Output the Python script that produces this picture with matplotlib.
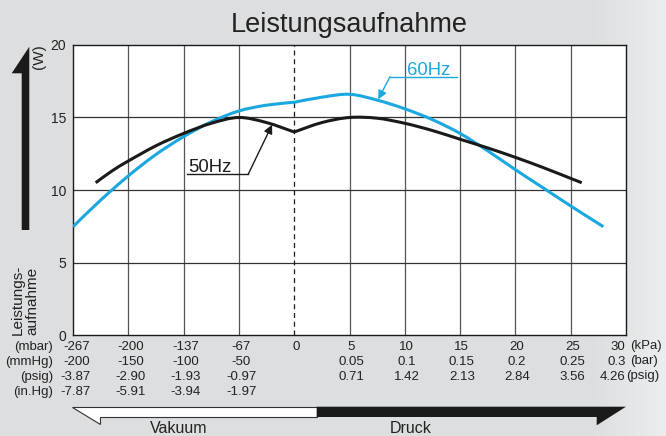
"""
Leistungsaufnahme chart: power draw of a diaphragm pump at 50 Hz / 60 Hz
over vacuum and pressure range.
"""

import matplotlib

matplotlib.use("Agg")

import matplotlib.pyplot as plt
import numpy as np
from matplotlib.patches import PathPatch, Polygon
from matplotlib.path import Path
from matplotlib.transforms import blended_transform_factory

plt.rcParams["font.family"] = ["Liberation Sans", "DejaVu Sans"]

# x is measured in grid columns: 0 = atmosphere, -4..-1 vacuum steps, 1..6 = 5..30 kPa
hz60_x = [-4, -3.5, -3, -2.5, -2, -1.5, -1, -0.5, 0, 0.5, 1, 1.5, 2, 2.5, 3, 3.5, 4, 4.5, 5, 5.59]
hz60_w = [7.47, 9.3, 10.97, 12.45, 13.68, 14.7, 15.45, 15.85, 16.05, 16.4, 16.6, 16.2,
          15.6, 14.85, 13.9, 12.7, 11.4, 10.15, 8.9, 7.47]

hz50_x = [-3.59, -3.3, -3, -2.5, -2, -1.5, -1, -0.5, 0, 0.5, 1, 1.5, 2, 2.5, 3, 3.5, 4, 4.5, 5, 5.2]
hz50_w = [10.5, 11.3, 12.0, 13.05, 13.9, 14.6, 15.0, 14.65, 14.0, 14.65, 15.0, 14.95,
          14.6, 14.1, 13.5, 12.9, 12.25, 11.55, 10.8, 10.5]

vac_cols = [-4, -3, -2, -1]
mbar_labels = ["-267", "-200", "-137", "-67"]
mmhg_labels = ["-200", "-150", "-100", "-50"]
psig_vac_labels = ["-3.87", "-2.90", "-1.93", "-0.97"]
inhg_labels = ["-7.87", "-5.91", "-3.94", "-1.97"]

kpa_cols = [0, 1, 2, 3, 4, 5, 6]
kpa_labels = ["0", "5", "10", "15", "20", "25", "30"]
prs_cols = [1, 2, 3, 4, 5, 6]
bar_labels = ["0.05", "0.1", "0.15", "0.2", "0.25", "0.3"]
psig_labels = ["0.71", "1.42", "2.13", "2.84", "3.56", "4.26"]

y_ticks = [0, 5, 10, 15, 20]
grid_cols = [-3, -2, -1, 1, 2, 3, 4, 5]

BLUE = "#1ba8e0"
BLACK = "#1a1a1a"
TEXT = "#222222"


def smooth_path(xs, ys, kink=0.0):
    """Bezier path through the read points, with a corner at the atmosphere line."""
    pts = np.column_stack([xs, ys]).astype(float)
    split = int(np.where(np.isclose(pts[:, 0], kink))[0][0])
    verts, codes = [], []
    for part in (pts[: split + 1], pts[split:]):
        n = len(part)
        if not verts:
            verts.append(part[0])
            codes.append(Path.MOVETO)
        for i in range(n - 1):
            p0 = part[max(i - 1, 0)]
            p1, p2 = part[i], part[i + 1]
            p3 = part[min(i + 2, n - 1)]
            verts += [p1 + (p2 - p0) / 6, p2 - (p3 - p1) / 6, p2]
            codes += [Path.CURVE4] * 3
    return Path(verts, codes)


W, H = 666, 436
fig = plt.figure(figsize=(W / 100, H / 100), dpi=100)

# pixel-space overlay for the background and everything outside the plot
ov = fig.add_axes([0, 0, 1, 1])
ov.set_xlim(0, W)
ov.set_ylim(H, 0)
ov.axis("off")
ov.set_zorder(1)
shade = np.full(W, 221.0)
ramp = np.arange(W) > 590
shade[ramp] = 221.0 + (np.arange(W)[ramp] - 590) / (W - 590) * 15.0
bg = np.stack([shade, shade + 1, shade + 2], axis=-1)[None, :, :] / 255.0
ov.imshow(np.clip(bg, 0, 1), extent=[0, W, H, 0], aspect="auto", zorder=0)

ax = fig.add_axes([73 / W, 1 - 335 / H, 553 / W, 290 / H])
ax.set_zorder(2)
ax.set_facecolor("white")
ax.set_xlim(-4, 6)
ax.set_ylim(0, 20)

for c in grid_cols:
    ax.axvline(c, color="#555555", lw=0.9, zorder=1)
for v in y_ticks[1:-1]:
    ax.axhline(v, color="#333333", lw=0.9, zorder=1)
ax.axvline(0, color=BLACK, lw=0.9, ls=(0, (4, 3)), zorder=1)

ax.add_patch(PathPatch(smooth_path(hz60_x, hz60_w), fill=False, edgecolor=BLUE,
                       lw=2.2, capstyle="butt", zorder=3))
ax.add_patch(PathPatch(smooth_path(hz50_x, hz50_w), fill=False, edgecolor=BLACK,
                       lw=2.2, capstyle="butt", zorder=4))

ax.set_xticks([])
ax.set_yticks(y_ticks)
ax.tick_params(axis="y", length=0, pad=5, labelsize=10, labelcolor=TEXT)
for s in ax.spines.values():
    s.set_color(BLACK)
    s.set_linewidth(1.0)

# curve call-outs
ax.plot([1.73, 2.94], [17.8, 17.8], color=BLUE, lw=1.0, zorder=5)
ax.annotate("", xy=(1.52, 16.25), xytext=(1.73, 17.8),
            arrowprops=dict(arrowstyle="-|>", color=BLUE, lw=1.0, mutation_scale=13,
                            shrinkA=0, shrinkB=0), zorder=5)
ax.text(2.04, 17.95, "60Hz", color=BLUE, fontsize=13.3, va="baseline")

ax.plot([-1.93, -0.83], [11.1, 11.1], color=BLACK, lw=1.0, zorder=5)
ax.annotate("", xy=(-0.4, 14.5), xytext=(-0.83, 11.1),
            arrowprops=dict(arrowstyle="-|>", color=BLACK, lw=1.0, mutation_scale=13,
                            shrinkA=0, shrinkB=0), zorder=5)
ax.text(-1.92, 11.27, "50Hz", color=BLACK, fontsize=13.3, va="baseline")

# unit rows under the x axis
tr = blended_transform_factory(ax.transData, ov.transData)
fs = 9.5
row_y = [346.5, 362, 377, 392]
vac_rows = [mbar_labels, mmhg_labels, psig_vac_labels, inhg_labels]
for y, labels in zip(row_y, vac_rows):
    for c, lab in zip(vac_cols, labels):
        if c == -4:
            ov.text(c + 0.31, y, lab, transform=tr, ha="right", va="center", fontsize=fs, color=TEXT)
        else:
            ov.text(c + 0.04, y, lab, transform=tr, ha="center", va="center", fontsize=fs, color=TEXT)

prs_rows = [(kpa_cols, kpa_labels), (prs_cols, bar_labels), (prs_cols, psig_labels)]
for y, (cols, labels) in zip(row_y, prs_rows):
    for c, lab in zip(cols, labels):
        if c == 6:
            ov.text(c - 0.01, y, lab, transform=tr, ha="right", va="center", fontsize=fs, color=TEXT)
        else:
            ov.text(c + 0.03, y, lab, transform=tr, ha="center", va="center", fontsize=fs, color=TEXT)

for y, unit in zip(row_y, ["(mbar)", "(mmHg)", "(psig)", "(in.Hg)"]):
    ov.text(53, y, unit, ha="right", va="center", fontsize=fs, color=TEXT)
for y, unit, x0 in zip(row_y, ["(kPa)", "(bar)", "(psig)"], [630, 630, 626]):
    ov.text(x0, y - 1, unit, ha="left", va="center", fontsize=fs, color=TEXT)

# title and y axis caption
ov.text(349, 31.5, "Leistungsaufnahme", ha="center", va="baseline", fontsize=19.5, color=TEXT)
ov.text(39, 57, "(W)", rotation=90, ha="center", va="center", fontsize=11, color=TEXT)
ov.text(25, 335, "Leistungs-\naufnahme", rotation=90, ha="center", va="bottom",
        multialignment="left", fontsize=11, color=TEXT, linespacing=1.0)

ov.add_patch(Polygon([(21.7, 230), (29.3, 230), (29.3, 46.7), (11.7, 73.3), (21.7, 73.3)],
                     closed=True, facecolor=BLACK, edgecolor="none", zorder=2))

# vacuum / pressure band
ov.add_patch(Polygon([(71.7, 406.7), (316.7, 406.7), (316.7, 416.7), (100, 416.7), (100, 424)],
                     closed=True, facecolor="white", edgecolor="#333333", lw=0.8, zorder=2))
ov.add_patch(Polygon([(316.7, 406.7), (626, 406.7), (596.7, 425.3), (596.7, 417), (316.7, 417)],
                     closed=True, facecolor=BLACK, edgecolor="none", zorder=2))
ov.text(179, 428, "Vakuum", ha="center", va="center", fontsize=11.5, color=TEXT)
ov.text(411, 428, "Druck", ha="center", va="center", fontsize=11.5, color=TEXT)

fig.savefig("out.png", dpi=100)
